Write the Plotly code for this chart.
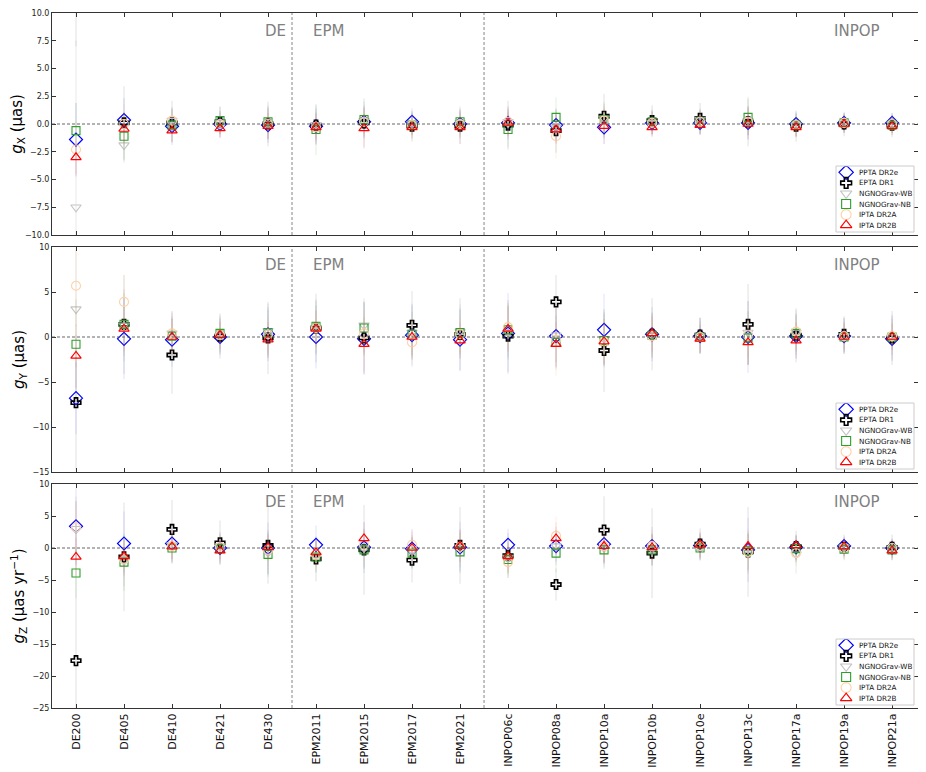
import plotly.graph_objects as go

categories = ["DE200", "DE405", "DE410", "DE421", "DE430",
              "EPM2011", "EPM2015", "EPM2017", "EPM2021",
              "INPOP06c", "INPOP08a", "INPOP10a", "INPOP10b", "INPOP10e",
              "INPOP13c", "INPOP17a", "INPOP19a", "INPOP21a"]

series_names = ["PPTA DR2e", "EPTA DR1", "NGNOGrav-WB", "NGNOGrav-NB", "IPTA DR2A", "IPTA DR2B"]

# ---- g_X (µas) ----
gx_ppta = [-1.4, 0.35, -0.2, 0.0, -0.1, -0.2, 0.2, 0.2, 0.0, 0.1, -0.1, -0.3, 0.1, 0.1, 0.1, 0.0, 0.1, 0.1]
gx_epta = [12.0, 0.1, 0.1, 0.2, 0.0, -0.1, 0.1, -0.2, -0.2, -0.1, -0.6, 0.7, 0.3, 0.5, 0.2, -0.2, 0.0, -0.1]
gx_wb   = [-7.5, -1.9, 0.3, 0.1, 0.0, -0.1, 0.3, 0.0, 0.1, 0.2, -0.3, 0.5, 0.1, 0.4, 0.3, -0.1, 0.1, 0.0]
gx_nb   = [-0.6, -1.1, -0.1, 0.3, 0.2, -0.5, 0.4, -0.1, 0.2, -0.5, 0.6, 0.4, 0.2, 0.2, 0.6, -0.1, 0.1, -0.1]
gx_a    = [-2.3, 0.0, 0.3, 0.0, 0.0, -0.3, 0.2, -0.1, 0.0, 0.2, -1.1, 0.3, 0.1, 0.2, 0.2, -0.1, 0.1, 0.0]
gx_b    = [-3.0, -0.45, -0.6, -0.4, -0.2, -0.3, -0.4, -0.3, -0.3, 0.1, -0.5, -0.2, -0.3, -0.1, 0.0, -0.3, 0.0, -0.2]

gx_ppta_err = [3.3, 2.0, 1.5, 1.2, 1.6, 1.6, 1.5, 1.2, 1.3, 1.5, 1.4, 1.5, 1.1, 1.1, 1.5, 1.1, 0.9, 0.9]
gx_epta_err = [5.0, 3.3, 2.0, 1.4, 2.0, 1.8, 2.2, 1.4, 1.6, 2.2, 2.0, 2.0, 1.4, 1.4, 2.2, 1.4, 1.1, 1.1]
gx_wb_err   = [15.0, 1.6, 1.2, 1.0, 1.4, 1.2, 1.2, 1.0, 1.0, 1.2, 1.4, 1.3, 1.0, 1.0, 1.3, 1.0, 0.8, 0.8]
gx_nb_err   = [2.5, 2.2, 1.5, 1.2, 1.5, 2.3, 1.6, 1.2, 1.4, 1.6, 1.8, 1.6, 1.1, 1.1, 1.6, 1.1, 0.9, 0.9]
gx_a_err    = [2.5, 1.8, 1.2, 1.0, 1.3, 1.3, 1.3, 1.0, 1.0, 1.3, 2.0, 1.3, 1.0, 1.0, 1.3, 1.0, 0.8, 0.8]
gx_b_err    = [1.5, 1.5, 1.0, 0.9, 1.2, 1.2, 1.8, 1.0, 1.5, 1.2, 1.3, 1.6, 0.9, 0.9, 1.4, 0.9, 0.8, 0.8]

# ---- g_Y (µas) ----
gy_ppta = [-6.8, -0.2, -0.3, 0.0, 0.3, 0.0, -0.2, 0.2, -0.3, 0.4, 0.1, 0.8, 0.3, 0.1, 0.0, 0.1, 0.1, -0.2]
gy_epta = [-7.3, 1.4, -2.0, 0.1, -0.1, 1.0, -0.1, 1.3, 0.3, 0.1, 3.9, -1.5, 0.3, 0.2, 1.4, 0.2, 0.3, -0.1]
gy_wb   = [3.1, 1.3, 0.4, 0.2, 0.7, 1.0, 1.3, 0.5, 0.6, 0.5, 0.2, -0.2, 0.2, 0.1, 0.5, 0.5, 0.1, 0.0]
gy_nb   = [-0.8, 1.4, 0.1, 0.4, 0.5, 1.2, 1.0, 0.3, 0.5, 0.8, -0.6, -0.4, 0.2, 0.0, -0.1, 0.4, 0.0, 0.0]
gy_a    = [5.7, 3.9, 0.4, 0.2, 0.3, 1.0, 0.4, -0.6, 0.3, 1.1, -0.3, -0.5, 0.1, 0.0, 0.2, 0.6, 0.1, 0.1]
gy_b    = [-2.1, 0.9, 0.0, 0.2, -0.3, 0.9, -0.8, 0.0, -0.4, 0.9, -0.8, -0.5, 0.4, -0.2, -0.6, -0.4, 0.0, 0.0]

gy_ppta_err = [4.0, 4.5, 3.0, 2.0, 3.0, 3.5, 4.0, 3.5, 3.5, 4.5, 3.5, 4.0, 3.0, 2.0, 4.0, 2.5, 2.0, 2.5]
gy_epta_err = [7.5, 5.5, 4.3, 2.5, 4.0, 3.8, 4.0, 3.8, 4.0, 4.0, 3.0, 4.6, 4.0, 2.0, 4.5, 3.0, 2.0, 3.0]
gy_wb_err   = [6.5, 4.0, 2.5, 2.0, 3.0, 3.0, 3.0, 3.0, 3.0, 3.0, 3.0, 3.0, 2.5, 2.0, 3.5, 2.5, 2.0, 2.5]
gy_nb_err   = [5.0, 3.5, 2.0, 2.0, 2.5, 3.0, 3.0, 2.5, 2.5, 3.0, 3.0, 3.0, 2.5, 1.8, 3.0, 2.0, 1.8, 2.0]
gy_a_err    = [4.5, 3.0, 2.5, 1.5, 2.0, 2.0, 2.5, 2.5, 2.0, 2.5, 4.0, 2.5, 2.0, 1.5, 2.5, 2.0, 1.5, 1.5]
gy_b_err    = [3.5, 2.5, 2.0, 1.5, 2.0, 2.0, 3.0, 2.0, 2.0, 2.5, 2.5, 2.5, 2.0, 1.5, 2.5, 2.0, 1.5, 1.5]

# ---- g_Z (µas/yr) ----
gz_ppta = [3.4, 0.7, 0.7, 0.0, 0.0, 0.5, 0.1, -0.1, 0.1, 0.5, 0.3, 0.6, 0.3, 0.4, -0.3, 0.1, 0.3, 0.0]
gz_epta = [-17.6, -1.4, 2.9, 0.8, 0.4, -1.7, -0.3, -1.9, 0.4, -1.2, -5.7, 2.8, -0.8, 0.6, -0.6, 0.2, 0.1, 0.1]
gz_wb   = [3.0, -2.0, 0.5, 0.3, -0.7, -1.2, 0.0, -0.5, 0.0, -1.5, 0.3, 0.0, -0.2, 0.2, -0.8, -1.0, 0.1, -0.1]
gz_nb   = [-3.9, -2.2, 0.0, -0.1, -1.0, -1.4, -0.3, -0.8, -0.6, -1.8, -0.8, -0.3, -0.3, 0.0, -0.4, -0.1, -0.2, -0.3]
gz_a    = [3.2, -1.8, 0.3, 0.2, -0.3, -1.0, 0.5, 0.5, 0.2, -2.2, 1.9, 0.3, 0.3, 0.3, -0.6, -0.8, 0.0, 0.0]
gz_b    = [-1.4, -1.3, 0.2, -0.4, 0.1, -0.7, 1.5, 0.0, 0.3, -1.3, 1.5, 0.3, 0.1, 0.5, 0.3, 0.4, 0.2, -0.4]

gz_ppta_err = [6.0, 5.0, 3.0, 2.5, 4.0, 3.0, 4.0, 3.0, 4.0, 2.5, 2.5, 3.0, 3.0, 2.0, 5.0, 2.0, 1.5, 1.5]
gz_epta_err = [25.0, 8.5, 4.6, 3.5, 6.0, 3.5, 7.0, 3.5, 6.0, 3.5, 2.5, 5.3, 7.0, 2.5, 7.0, 2.5, 2.0, 2.0]
gz_wb_err   = [5.0, 4.0, 2.5, 2.0, 3.5, 2.5, 3.0, 2.5, 3.0, 2.5, 3.0, 3.0, 2.5, 2.0, 3.0, 3.0, 1.5, 1.5]
gz_nb_err   = [4.0, 4.5, 2.5, 2.0, 3.5, 2.5, 3.0, 2.5, 3.0, 2.5, 3.0, 3.0, 2.5, 2.0, 3.0, 2.0, 1.5, 1.5]
gz_a_err    = [4.0, 3.0, 2.5, 2.0, 2.5, 2.0, 2.5, 2.5, 2.5, 2.5, 3.0, 2.5, 2.5, 2.0, 3.5, 2.0, 1.5, 1.5]
gz_b_err    = [3.0, 2.5, 2.5, 2.0, 2.0, 2.0, 2.5, 2.5, 2.5, 2.5, 2.5, 2.5, 2.0, 2.0, 2.0, 1.5, 1.5, 1.5]

gx_vals = [gx_ppta, gx_epta, gx_wb, gx_nb, gx_a, gx_b]
gx_errs = [gx_ppta_err, gx_epta_err, gx_wb_err, gx_nb_err, gx_a_err, gx_b_err]
gy_vals = [gy_ppta, gy_epta, gy_wb, gy_nb, gy_a, gy_b]
gy_errs = [gy_ppta_err, gy_epta_err, gy_wb_err, gy_nb_err, gy_a_err, gy_b_err]
gz_vals = [gz_ppta, gz_epta, gz_wb, gz_nb, gz_a, gz_b]
gz_errs = [gz_ppta_err, gz_epta_err, gz_wb_err, gz_nb_err, gz_a_err, gz_b_err]

# style
symbols = ["diamond-open", "cross-open", "triangle-down-open", "square-open", "circle-open", "triangle-up-open"]
colors = ["#0000ff", "#000000", "#c4c4c4", "#2ca02c", "#ffd2a8", "#ff0000"]
err_colors = ["rgba(0,0,255,0.10)", "rgba(0,0,0,0.10)", "rgba(150,150,150,0.18)",
              "rgba(0,128,0,0.10)", "rgba(255,150,60,0.12)", "rgba(255,0,0,0.10)"]
sizes = [10, 8, 9, 8, 9, 9]
line_w = [1.2, 1.6, 1.1, 1.1, 1.1, 1.2]

panels = [
    (gx_vals, gx_errs, [-10, 10], [-10, -7.5, -5, -2.5, 0, 2.5, 5, 7.5, 10], ".1f",
     "<i>g</i><sub>X</sub> (µas)"),
    (gy_vals, gy_errs, [-15, 10], [-15, -10, -5, 0, 5, 10], "d",
     "<i>g</i><sub>Y</sub> (µas)"),
    (gz_vals, gz_errs, [-25, 10], [-25, -20, -15, -10, -5, 0, 5, 10], "d",
     "<i>g</i><sub>Z</sub> (µas yr<sup>−1</sup>)"),
]

# figure geometry (pixels); the page body adds an 8px offset at top-left
OFF = 8
W, H = 926 - OFF, 772 - OFF
ML, MR, MT, MB = 52 - OFF, 8, 13 - OFF, 64
PW, PH = W - ML - MR, H - MT - MB
panel_px = [(13, 235), (247, 472), (484, 708)]  # top/bottom pixel (screen) of each panel
def ydom(px):
    return (H - MB - (px - OFF)) / PH
domains = [[ydom(b), ydom(t)] for t, b in panel_px]

fig = go.Figure()
for p, (vals, errs, yr, tv, fmt, title) in enumerate(panels):
    sx = "" if p == 0 else str(p + 1)
    for i, name in enumerate(series_names):
        fig.add_trace(go.Scatter(
            x=categories, y=vals[i], mode="markers", name=name, showlegend=False,
            xaxis="x" + sx, yaxis="y" + sx,
            marker=dict(symbol=symbols[i], color=colors[i], size=sizes[i],
                        line=dict(width=line_w[i], color=colors[i])),
            error_y=dict(type="data", array=errs[i], color=err_colors[i], thickness=1.2, width=0),
        ))

layout_kw = {}
tickfont = dict(family="DejaVu Sans", size=8, color="#222")
for p, (vals, errs, yr, tv, fmt, title) in enumerate(panels):
    sx = "" if p == 0 else str(p + 1)
    layout_kw["xaxis" + sx] = dict(
        type="category", categoryorder="array", categoryarray=categories,
        range=[-0.5, 17.54], domain=[0, 1], anchor="y" + sx,
        showline=True, linecolor="#333", linewidth=1, mirror="ticks",
        ticks="inside", ticklen=4, tickcolor="#333",
        showticklabels=(p == 2), tickangle=-90, automargin=False,
        tickfont=dict(family="DejaVu Sans", size=11, color="#111"),
        showgrid=False, zeroline=False,
    )
    layout_kw["yaxis" + sx] = dict(
        domain=domains[p], anchor="x" + sx, range=yr, tickvals=tv,
        tickformat=fmt, automargin=False, ticklabeloverflow="allow",
        showline=True, linecolor="#333", linewidth=1, mirror="ticks",
        ticks="inside", ticklen=4, tickcolor="#333",
        tickfont=tickfont, showgrid=False, zeroline=False,
        title=dict(text=title, font=dict(family="DejaVu Sans", size=15, color="#000"), standoff=4),
    )

shapes = []
annotations = []
for p in range(3):
    sx = "" if p == 0 else str(p + 1)
    xr = "x" + sx
    yr_ = "y" + sx
    shapes.append(dict(type="line", xref=xr + " domain", yref=yr_, x0=0, x1=1, y0=0, y1=0,
                       line=dict(color="#555", width=0.9, dash="3px,2px")))
    for xb in [4.5, 8.5]:
        shapes.append(dict(type="line", xref=xr, yref=yr_ + " domain", x0=xb, x1=xb, y0=0, y1=1,
                           line=dict(color="#777", width=0.9, dash="3px,2px")))
    for txt, xpos, anc in [("DE", 4.42, "right"), ("EPM", 4.9, "left"), ("INPOP", 15.75, "left")]:
        annotations.append(dict(text=txt, xref=xr, yref=yr_ + " domain", x=xpos, y=0.92,
                                xanchor=anc, yanchor="middle", showarrow=False,
                                font=dict(family="DejaVu Sans", size=15, color="#808080")))

# compact legend boxes (lower right of each panel), drawn on small overlay axes
box_w, box_h, box_gap_r, box_gap_b = 78, 66, 4, 3
n = len(series_names)
for p in range(3):
    ax = str(4 + p)
    top, bot = panel_px[p]
    x1 = 918 - box_gap_r
    x0 = x1 - box_w
    yb = bot - box_gap_b
    yt = yb - box_h
    layout_kw["xaxis" + ax] = dict(domain=[(x0 - OFF - ML) / PW, (x1 - OFF - ML) / PW], anchor="y" + ax,
                                   range=[0, 1], visible=False, fixedrange=True)
    layout_kw["yaxis" + ax] = dict(domain=[ydom(yb), ydom(yt)], anchor="x" + ax,
                                   range=[n + 0.25, 0], visible=False, fixedrange=True)
    shapes.append(dict(type="rect", xref="x%s domain" % ax, yref="y%s domain" % ax,
                       x0=0, x1=1, y0=0, y1=1, fillcolor="rgba(255,255,255,0)",
                       line=dict(color="#cccccc", width=1), layer="above"))
    for i, name in enumerate(series_names):
        fig.add_trace(go.Scatter(
            x=[0.13], y=[i + 0.6], mode="markers", showlegend=False, hoverinfo="skip",
            xaxis="x" + ax, yaxis="y" + ax,
            marker=dict(symbol=symbols[i], color=colors[i], size=sizes[i] + 1,
                        line=dict(width=line_w[i], color=colors[i])),
        ))
        annotations.append(dict(text=name, xref="x" + ax, yref="y" + ax, x=0.27, y=i + 0.6,
                                xanchor="left", yanchor="middle", showarrow=False,
                                font=dict(family="DejaVu Sans", size=7.2, color="#111")))

fig.update_layout(
    width=W, height=H,
    margin=dict(l=ML, r=MR, t=MT, b=MB),
    plot_bgcolor="white", paper_bgcolor="white",
    shapes=shapes, annotations=annotations, showlegend=False,
    **layout_kw,
)

fig.write_html("out.html")
